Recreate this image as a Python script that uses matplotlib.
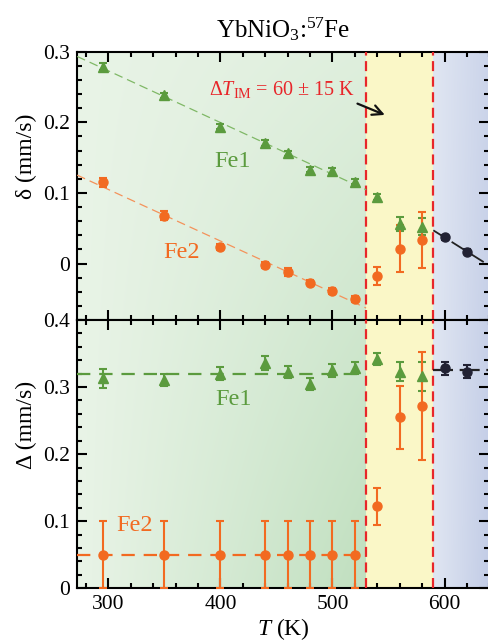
import numpy as np
import matplotlib.pyplot as plt
from matplotlib.colors import to_rgb
from matplotlib.ticker import MultipleLocator

plt.rcParams['font.family'] = ['Liberation Serif', 'DejaVu Serif']
plt.rcParams['mathtext.fontset'] = 'custom'
plt.rcParams['mathtext.rm'] = 'Liberation Serif'
plt.rcParams['mathtext.it'] = 'Liberation Serif:italic'

# temperaturas (K)
T = [295, 350, 400, 440, 460, 480, 500, 520, 540, 560, 580]
T_alta = [600, 620]

# corrimiento isomerico delta (mm/s)
d_fe1 = [0.279, 0.238, 0.194, 0.171, 0.156, 0.133, 0.131, 0.116, 0.094, 0.056, 0.052]
d_fe1_err = [0.005, 0.004, 0.004, 0.004, 0.004, 0.004, 0.004, 0.004, 0.004, 0.010, 0.012]
d_fe2 = [0.115, 0.068, 0.023, -0.002, -0.012, -0.027, -0.039, -0.050, -0.018, 0.021, 0.033]
d_fe2_err = [0.006, 0.006, 0.004, 0.004, 0.005, 0.004, 0.004, 0.004, 0.013, 0.033, 0.040]
d_alta = [0.037, 0.017]
d_alta_err = [0.004, 0.004]

# desdoblamiento cuadrupolar Delta (mm/s)
q_fe1 = [0.313, 0.310, 0.320, 0.336, 0.323, 0.305, 0.325, 0.328, 0.342, 0.323, 0.316]
q_fe1_err = [0.014, 0.009, 0.010, 0.010, 0.009, 0.009, 0.010, 0.009, 0.009, 0.014, 0.022]
q_fe2 = [0.05, 0.05, 0.05, 0.05, 0.05, 0.05, 0.05, 0.05, 0.122, 0.255, 0.272]
q_fe2_err = [0.05, 0.05, 0.05, 0.05, 0.05, 0.05, 0.05, 0.05, 0.027, 0.047, 0.080]
q_alta = [0.328, 0.323]
q_alta_err = [0.010, 0.010]

T_im = [530, 590]
xmin, xmax = 272, 640

verde = '#5b9b3e'
verde_claro = '#7fb866'
naranja = '#f26a21'
rojo = '#e8262a'

fig = plt.figure(figsize=(4.88, 6.41), dpi=100)
ax1 = fig.add_axes([0.158, 0.5008, 0.8447, 0.4185])
ax2 = fig.add_axes([0.158, 0.0822, 0.8447, 0.4186])


def gradiente(ax, x0, x1, y0, y1, c0, c1, v0, v1, modo):
    n = 200
    u = np.linspace(0, 1, n)[None, :]
    v = np.linspace(v0, v1, n)[:, None]
    if modo == 'verde':
        w = u * (0.25 + 0.75 * v)
    else:
        w = u * (0.7 + 0.3 * v)
    a = np.array(to_rgb(c0))
    b = np.array(to_rgb(c1))
    img = a[None, None, :] * (1 - w[..., None]) + b[None, None, :] * w[..., None]
    ax.imshow(img, extent=[x0, x1, y0, y1], origin='upper', aspect='auto',
              zorder=0, interpolation='bilinear')


for ax, (y0, y1), (v0, v1) in [(ax1, (-0.08, 0.3), (0, 0.5)), (ax2, (0, 0.4), (0.5, 1))]:
    gradiente(ax, xmin, T_im[0], y0, y1, '#e9f4e7', '#c0dfbf', v0, v1, 'verde')
    ax.axvspan(T_im[0], T_im[1], color='#faf7c7', lw=0, zorder=0)
    gradiente(ax, T_im[1], xmax, y0, y1, '#e0e6f2', '#c2cce6', v0, v1, 'azul')
    for t in T_im:
        ax.axvline(t, color=rojo, lw=1.6, dashes=(4.5, 2.5), zorder=3)
    ax.set_xlim(xmin, xmax)
    ax.set_ylim(y0, y1)
    ax.xaxis.set_major_locator(MultipleLocator(100))
    ax.xaxis.set_minor_locator(MultipleLocator(20))
    ax.yaxis.set_major_locator(MultipleLocator(0.1))
    ax.yaxis.set_minor_locator(MultipleLocator(0.02))
    ax.tick_params(which='both', direction='in', top=True, right=True,
                   labelsize=15.5, width=1.5, pad=5)
    ax.tick_params(which='major', length=7)
    ax.tick_params(which='minor', length=3.5)
    for s in ax.spines.values():
        s.set_linewidth(1.5)

eb = dict(lw=1.5, capsize=3, capthick=1.5, ls='none', zorder=5)

# --- panel superior ---
Tp = np.array(T)
mask = Tp <= 520
xf = np.linspace(xmin, T_im[0], 50)
p1 = np.polyfit(Tp[mask], np.array(d_fe1)[mask], 1)
p2 = np.polyfit(Tp[mask], np.array(d_fe2)[mask], 1)
ax1.plot(xf, np.polyval(p1, xf), color=verde_claro, lw=0.9, dashes=(7, 4), zorder=4)
ax1.plot(xf, np.polyval(p2, xf), color='#f4925a', lw=0.9, dashes=(7, 4), zorder=4)
pa = np.polyfit(T_alta, d_alta, 1)
xa = np.linspace(T_im[1], xmax, 10)
ax1.plot(xa, np.polyval(pa, xa), color='#222222', lw=1.3, dashes=(9, 3), zorder=4)

ax1.errorbar(T, d_fe1, yerr=d_fe1_err, color=verde, marker='^', ms=6.5, **eb)
ax1.errorbar(T, d_fe2, yerr=d_fe2_err, color=naranja, marker='o', ms=6.5, **eb)
ax1.errorbar(T_alta, d_alta, yerr=d_alta_err, color='#222233', marker='o', ms=6.5, **eb)

ax1.set_yticks([0, 0.1, 0.2, 0.3])
ax1.set_yticklabels(['0', '0.1', '0.2', '0.3'])
ax1.tick_params(labelbottom=False)
ax1.set_ylabel('δ (mm/s)', fontsize=17)
ax1.yaxis.set_label_coords(-0.097, 0.61)
ax1.text(411, 0.145, 'Fe1', color=verde, fontsize=17.5, ha='center', va='center', zorder=6)
ax1.text(365, 0.015, 'Fe2', color=naranja, fontsize=17.5, ha='center', va='center', zorder=6)
ax1.text(455, 0.246, r'Δ$T_{\rm IM}$ = 60 ± 15 K', color=rojo, fontsize=14.5,
         ha='center', va='center', zorder=6)
ax1.annotate('', xy=(549, 0.209), xytext=(520, 0.228),
             arrowprops=dict(arrowstyle='->', color='#111111', lw=1.6,
                             mutation_scale=18), zorder=6)
ax1.set_title('YbNiO$_3$:$^{57}$Fe', fontsize=18, pad=10)

# --- panel inferior ---
ax2.plot([xmin, T_im[0]], [np.mean(np.array(q_fe1)[mask])] * 2, color=verde,
         lw=1.6, dashes=(6, 4), zorder=4)
ax2.plot([xmin, T_im[0]], [np.mean(np.array(q_fe2)[mask])] * 2, color=naranja,
         lw=1.6, dashes=(6, 4), zorder=4)
ax2.plot([T_im[1], xmax], [np.mean(q_alta)] * 2, color='#222222', lw=1.6,
         dashes=(9, 3), zorder=4)

ax2.errorbar(T, q_fe1, yerr=q_fe1_err, color=verde, marker='^', ms=6.5, **eb)
ax2.errorbar(T, q_fe2, yerr=q_fe2_err, color=naranja, marker='o', ms=6.5, **eb)
ax2.errorbar(T_alta, q_alta, yerr=q_alta_err, color='#222233', marker='o', ms=6.5, **eb)

ax2.set_yticks([0, 0.1, 0.2, 0.3, 0.4])
ax2.set_yticklabels(['0', '0.1', '0.2', '0.3', '0.4'])
ax2.set_xticks([300, 400, 500, 600])
ax2.set_ylabel('Δ (mm/s)', fontsize=17)
ax2.yaxis.set_label_coords(-0.097, 0.61)
ax2.set_xlabel(r'$T$ (K)', fontsize=17, labelpad=1)
ax2.text(412, 0.281, 'Fe1', color=verde, fontsize=17.5, ha='center', va='center', zorder=6)
ax2.text(323, 0.094, 'Fe2', color=naranja, fontsize=17.5, ha='center', va='center', zorder=6)

fig.savefig('out.png', dpi=100)
